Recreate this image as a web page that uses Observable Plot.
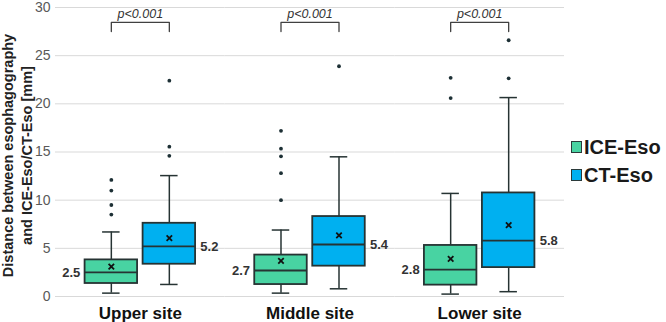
<!DOCTYPE html>
<html>
<head>
<meta charset="utf-8">
<script src="https://cdn.jsdelivr.net/npm/d3@7"></script>
<script src="https://cdn.jsdelivr.net/npm/@observablehq/plot@0.6"></script>
<style>
  html, body { margin: 0; padding: 0; background: #fff; }
  #wrap { position: relative; width: 666px; height: 322px; font-family: "Liberation Sans", Arial, sans-serif; }
  #legend { position: absolute; left: 571px; top: 133px; }
  .li { display: flex; align-items: center; height: 28px; font-weight: bold; font-size: 20px; color: #1a1a1a; }
  .sw { width: 9px; height: 10px; border: 1px solid #2b3a3a; margin-right: 2px; }
</style>
</head>
<body>
<div id="wrap"></div>
<script>
const sites = ["Upper site", "Middle site", "Lower site"];
const groups = ["ICE-Eso", "CT-Eso"];
const groupColors = ["#48D3A2", "#00B0F0"];
const yTicks = [0, 5, 10, 15, 20, 25, 30];

const iceQ1 = [1.35, 1.24, 1.18];
const iceMedian = [2.5, 2.7, 2.8];
const iceQ3 = [3.8, 4.3, 5.3];
const iceLow = [0.35, 0.35, 0.25];
const iceHigh = [6.7, 6.9, 10.7];
const iceMean = [3.1, 3.7, 3.9];
const iceOutliers = [[12.1, 11.0, 9.5, 8.5], [17.2, 15.35, 14.55, 12.8, 10.0], [22.7, 20.6]];

const ctQ1 = [3.35, 3.15, 3.0];
const ctMedian = [5.2, 5.4, 5.8];
const ctQ3 = [7.6, 8.3, 10.75];
const ctLow = [1.25, 0.8, 0.5];
const ctHigh = [12.55, 14.5, 20.65];
const ctMean = [6.05, 6.35, 7.4];
const ctOutliers = [[22.4, 15.55, 14.6], [23.9], [26.6, 22.65]];

const bracketLow = 27.5;
const bracketHigh = 28.45;
const pLabelY = 29.3;
const pLabel = "p<0.001";
const yTitle = ["Distance between esophagography", "and ICE-Eso/CT-Eso [mm]"];

const boxes = [];
const outliers = [];
sites.forEach((site, i) => {
  boxes.push({site, group: groups[0], q1: iceQ1[i], median: iceMedian[i], q3: iceQ3[i], lo: iceLow[i], hi: iceHigh[i], mean: iceMean[i]});
  boxes.push({site, group: groups[1], q1: ctQ1[i], median: ctMedian[i], q3: ctQ3[i], lo: ctLow[i], hi: ctHigh[i], mean: ctMean[i]});
  iceOutliers[i].forEach(v => outliers.push({site, group: groups[0], value: v}));
  ctOutliers[i].forEach(v => outliers.push({site, group: groups[1], value: v}));
});
const bracket = [];
sites.forEach(site => {
  bracket.push({site, group: groups[0], y: bracketLow});
  bracket.push({site, group: groups[0], y: bracketHigh});
  bracket.push({site, group: groups[1], y: bracketHigh});
  bracket.push({site, group: groups[1], y: bracketLow});
});
const pText = sites.map(site => ({site, y: pLabelY, label: pLabel}));

const dark = "#263333";
const font = "Liberation Sans, Arial, sans-serif";

const chart = Plot.plot({
  width: 666,
  height: 322,
  marginLeft: 55,
  marginRight: 102,
  marginTop: 7,
  marginBottom: 26,
  style: {fontFamily: font, background: "#fff"},
  fx: {domain: sites, padding: 0, round: false},
  x: {domain: groups, paddingInner: 0.095, paddingOuter: 0.51, round: false, axis: null},
  y: {domain: [0, 30]},
  color: {domain: groups, range: groupColors},
  marks: [
    Plot.gridY({ticks: yTicks, stroke: "#d9d9d9", strokeOpacity: 1}),
    Plot.axisY({ticks: yTicks, tickSize: 0, tickPadding: 5, fontSize: 14, fill: "#595959", label: null}),
    Plot.axisFx({anchor: "bottom", tickSize: 0, tickPadding: 10, fontSize: 17, fontWeight: "bold", fill: "#111", label: null}),
    Plot.ruleX(boxes, {fx: "site", x: "group", y1: "q3", y2: "hi", stroke: dark, strokeWidth: 1.5}),
    Plot.ruleX(boxes, {fx: "site", x: "group", y1: "lo", y2: "q1", stroke: dark, strokeWidth: 1.5}),
    Plot.tickY(boxes, {fx: "site", x: "group", y: "hi", stroke: dark, strokeWidth: 1.5, insetLeft: 17.5, insetRight: 17.5}),
    Plot.tickY(boxes, {fx: "site", x: "group", y: "lo", stroke: dark, strokeWidth: 1.5, insetLeft: 17.5, insetRight: 17.5}),
    Plot.barY(boxes, {fx: "site", x: "group", y1: "q1", y2: "q3", fill: "group", stroke: dark, strokeWidth: 1.8}),
    Plot.tickY(boxes, {fx: "site", x: "group", y: "median", stroke: dark, strokeWidth: 1.8}),
    Plot.dot(boxes, {fx: "site", x: "group", y: "mean", symbol: "times", r: 2.6, stroke: "#111", strokeWidth: 1.8}),
    Plot.dot(outliers, {fx: "site", x: "group", y: "value", r: 1.9, fill: "#1d3035", stroke: null}),
    Plot.text(boxes.filter(d => d.group === groups[0]), {fx: "site", x: "group", y: "median", text: d => d.median.toFixed(1), dx: -31, textAnchor: "end", fontSize: 13, fontWeight: "bold", fill: "#333"}),
    Plot.text(boxes.filter(d => d.group === groups[1]), {fx: "site", x: "group", y: "median", text: d => d.median.toFixed(1), dx: 31, textAnchor: "start", fontSize: 13, fontWeight: "bold", fill: "#333"}),
    Plot.line(bracket, {fx: "site", x: "group", y: "y", z: "site", stroke: "#404040", strokeWidth: 1.3}),
    Plot.text(pText, {fx: "site", frameAnchor: "middle", y: "y", text: "label", fontSize: 12.5, fontStyle: "italic", fill: "#333"})
  ]
});

const svg = d3.select(chart);
const yMid = 155.5;
[[13, yTitle[0]], [31.5, yTitle[1]]].forEach(([bx, t]) => {
  svg.append("text")
    .attr("transform", `translate(${bx},${yMid}) rotate(-90)`)
    .attr("text-anchor", "middle")
    .attr("font-family", font)
    .attr("font-size", 14.5)
    .attr("font-weight", "bold")
    .attr("fill", "#222")
    .text(t);
});

const wrap = document.getElementById("wrap");
wrap.appendChild(chart);
const legend = document.createElement("div");
legend.id = "legend";
groups.forEach((g, i) => {
  const row = document.createElement("div");
  row.className = "li";
  const sw = document.createElement("span");
  sw.className = "sw";
  sw.style.background = groupColors[i];
  row.appendChild(sw);
  row.appendChild(document.createTextNode(g));
  legend.appendChild(row);
});
wrap.appendChild(legend);
</script>
</body>
</html>
